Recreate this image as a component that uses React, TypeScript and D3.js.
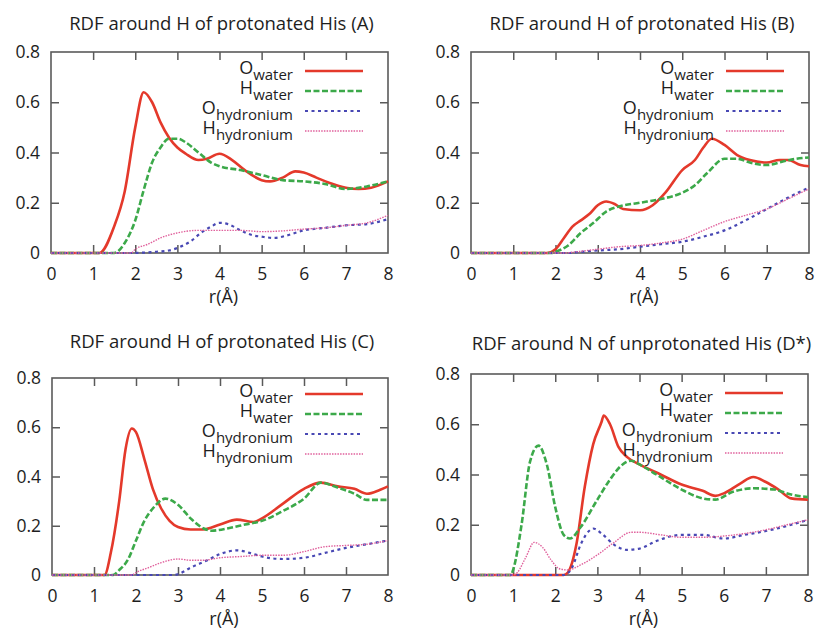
import React, { useEffect, useRef } from "react";
import * as d3 from "d3";

type Pt = [number, number];

const rTicks = [0, 1, 2, 3, 4, 5, 6, 7, 8];
const gTicks = [0, 0.2, 0.4, 0.6, 0.8];
const legendMain = ["O", "H", "O", "H"];
const legendSub = ["water", "water", "hydronium", "hydronium"];
const titles = [
  "RDF around H of protonated His (A)",
  "RDF around H of protonated His (B)",
  "RDF around H of protonated His (C)",
  "RDF around N of unprotonated His (D*)",
];

// panel A
const aOWater: Pt[] = [
  [0, 0], [1.15, 0], [1.5, 0.106], [1.75, 0.245], [2.0, 0.5], [2.2, 0.64], [2.4, 0.6],
  [2.6, 0.52], [2.8, 0.46], [3.0, 0.42], [3.2, 0.395], [3.5, 0.37], [3.7, 0.375],
  [4.0, 0.395], [4.3, 0.37], [4.6, 0.33], [5.0, 0.29], [5.2, 0.285], [5.5, 0.3],
  [5.8, 0.325], [6.0, 0.32], [6.3, 0.3], [6.6, 0.28], [7.0, 0.26], [7.3, 0.255],
  [7.6, 0.26], [8.0, 0.285],
];
const aHWater: Pt[] = [
  [0, 0], [1.5, 0], [1.75, 0.04], [2.0, 0.13], [2.2, 0.25], [2.4, 0.36], [2.6, 0.42],
  [2.8, 0.455], [3.0, 0.455], [3.2, 0.44], [3.5, 0.4], [3.8, 0.36], [4.0, 0.345],
  [4.5, 0.33], [5.0, 0.31], [5.5, 0.29], [6.0, 0.285], [6.5, 0.275], [7.0, 0.255],
  [7.5, 0.265], [8.0, 0.285],
];
const aOHyd: Pt[] = [
  [0, 0], [1.9, 0], [2.5, 0.005], [2.8, 0.01], [3.0, 0.02], [3.3, 0.045], [3.6, 0.085],
  [3.8, 0.105], [4.0, 0.12], [4.2, 0.115], [4.5, 0.09], [4.8, 0.07], [5.0, 0.065],
  [5.3, 0.06], [5.6, 0.07], [6.0, 0.09], [6.5, 0.1], [7.0, 0.11], [7.5, 0.115], [8.0, 0.135],
];
const aHHyd: Pt[] = [
  [0, 0], [1.9, 0], [2.0, 0.015], [2.3, 0.035], [2.6, 0.06], [3.0, 0.08], [3.5, 0.09],
  [4.0, 0.09], [4.5, 0.09], [5.0, 0.085], [5.5, 0.088], [6.0, 0.095], [6.5, 0.1],
  [7.0, 0.11], [7.5, 0.12], [8.0, 0.15],
];

// panel B
const bOWater: Pt[] = [
  [0, 0], [1.8, 0], [2.0, 0.015], [2.2, 0.06], [2.4, 0.105], [2.6, 0.13], [2.8, 0.155],
  [3.0, 0.19], [3.2, 0.205], [3.4, 0.195], [3.6, 0.175], [4.0, 0.17], [4.3, 0.19],
  [4.6, 0.24], [5.0, 0.33], [5.3, 0.37], [5.5, 0.42], [5.7, 0.455], [6.0, 0.43],
  [6.3, 0.39], [6.6, 0.37], [7.0, 0.36], [7.3, 0.37], [7.5, 0.37], [7.8, 0.35], [8.0, 0.345],
];
const bHWater: Pt[] = [
  [0, 0], [1.9, 0], [2.0, 0.005], [2.3, 0.03], [2.6, 0.08], [2.9, 0.12], [3.2, 0.165],
  [3.5, 0.185], [4.0, 0.2], [4.5, 0.215], [5.0, 0.24], [5.3, 0.27], [5.6, 0.32],
  [6.0, 0.375], [6.3, 0.375], [6.6, 0.36], [7.0, 0.35], [7.4, 0.365], [7.7, 0.375], [8.0, 0.38],
];
const bOHyd: Pt[] = [
  [0, 0], [2.3, 0], [2.5, 0.003], [3.0, 0.01], [3.5, 0.015], [4.0, 0.025], [4.5, 0.035],
  [5.0, 0.045], [5.5, 0.065], [6.0, 0.09], [6.5, 0.13], [7.0, 0.175], [7.5, 0.22], [8.0, 0.26],
];
const bHHyd: Pt[] = [
  [0, 0], [2.2, 0], [2.5, 0.005], [3.0, 0.015], [3.5, 0.025], [4.0, 0.03], [4.5, 0.04],
  [5.0, 0.055], [5.5, 0.09], [6.0, 0.125], [6.5, 0.15], [7.0, 0.175], [7.5, 0.215], [8.0, 0.255],
];

// panel C
const cOWater: Pt[] = [
  [0, 0], [1.25, 0], [1.4, 0.09], [1.6, 0.3], [1.75, 0.51], [1.9, 0.595], [2.0, 0.58],
  [2.2, 0.47], [2.4, 0.35], [2.6, 0.27], [2.8, 0.22], [3.0, 0.195], [3.3, 0.185],
  [3.6, 0.185], [4.0, 0.205], [4.4, 0.225], [4.8, 0.215], [5.0, 0.23], [5.5, 0.29],
  [6.0, 0.35], [6.4, 0.375], [6.8, 0.36], [7.2, 0.35], [7.5, 0.33], [7.8, 0.345], [8.0, 0.36],
];
const cHWater: Pt[] = [
  [0, 0], [1.45, 0], [1.6, 0.02], [1.8, 0.06], [2.0, 0.14], [2.2, 0.22], [2.4, 0.27],
  [2.7, 0.31], [3.0, 0.285], [3.3, 0.23], [3.6, 0.19], [3.8, 0.18], [4.2, 0.19],
  [4.6, 0.205], [5.0, 0.22], [5.5, 0.26], [6.0, 0.31], [6.4, 0.375], [6.8, 0.355],
  [7.2, 0.33], [7.5, 0.305], [8.0, 0.305],
];
const cOHyd: Pt[] = [
  [0, 0], [2.9, 0], [3.0, 0.003], [3.3, 0.03], [3.7, 0.06], [4.0, 0.085], [4.4, 0.1],
  [4.8, 0.085], [5.0, 0.075], [5.5, 0.065], [6.0, 0.07], [6.5, 0.09], [7.0, 0.11],
  [7.5, 0.125], [8.0, 0.14],
];
const cHHyd: Pt[] = [
  [0, 0], [1.9, 0], [2.0, 0.01], [2.3, 0.03], [2.6, 0.05], [3.0, 0.065], [3.3, 0.06],
  [3.6, 0.06], [4.0, 0.07], [4.5, 0.075], [5.0, 0.08], [5.5, 0.08], [6.0, 0.095],
  [6.5, 0.115], [7.0, 0.12], [7.5, 0.125], [8.0, 0.14],
];

// panel D
const dOWater: Pt[] = [
  [0, 0], [2.2, 0], [2.3, 0.01], [2.5, 0.12], [2.7, 0.35], [2.9, 0.52], [3.1, 0.61],
  [3.15, 0.635], [3.3, 0.6], [3.5, 0.51], [3.7, 0.47], [4.0, 0.44], [4.5, 0.4],
  [5.0, 0.36], [5.5, 0.335], [5.8, 0.315], [6.0, 0.325], [6.4, 0.365], [6.7, 0.39],
  [7.0, 0.37], [7.3, 0.34], [7.6, 0.305], [8.0, 0.3],
];
const dHWater: Pt[] = [
  [0, 0], [0.95, 0], [1.0, 0.02], [1.2, 0.2], [1.4, 0.45], [1.6, 0.515], [1.8, 0.44],
  [2.0, 0.27], [2.2, 0.16], [2.35, 0.145], [2.6, 0.19], [3.0, 0.3], [3.3, 0.38],
  [3.6, 0.44], [3.8, 0.455], [4.0, 0.44], [4.4, 0.4], [5.0, 0.34], [5.5, 0.305],
  [5.8, 0.3], [6.2, 0.33], [6.7, 0.345], [7.2, 0.34], [7.6, 0.32], [8.0, 0.31],
];
const dOHyd: Pt[] = [
  [0, 0], [2.2, 0], [2.4, 0.03], [2.6, 0.12], [2.8, 0.175], [2.9, 0.185], [3.1, 0.165],
  [3.4, 0.12], [3.7, 0.1], [4.0, 0.105], [4.4, 0.135], [5.0, 0.16], [5.5, 0.16],
  [6.0, 0.145], [6.5, 0.16], [7.0, 0.175], [7.5, 0.195], [8.0, 0.22],
];
const dHHyd: Pt[] = [
  [0, 0], [1.0, 0], [1.1, 0.01], [1.3, 0.07], [1.5, 0.13], [1.7, 0.11], [1.9, 0.06],
  [2.1, 0.025], [2.3, 0.02], [2.6, 0.04], [3.0, 0.08], [3.4, 0.13], [3.8, 0.17],
  [4.0, 0.17], [4.5, 0.16], [5.0, 0.15], [5.5, 0.15], [6.0, 0.155], [6.5, 0.165],
  [7.0, 0.18], [7.5, 0.2], [8.0, 0.22],
];

const lineStyles = [
  { color: "#e4392b", width: 2.6, dash: "" },
  { color: "#3ca94a", width: 2.6, dash: "6,2.5" },
  { color: "#4848b4", width: 2.2, dash: "3,3.5" },
  { color: "#e0609c", width: 1.4, dash: "1.5,1.2" },
];

const panels = [
  { title: titles[0], x0: 51, x1: 388, y0: 52, y1: 253, titleY: 30, legendY: 71, series: [aOWater, aHWater, aOHyd, aHHyd] },
  { title: titles[1], x0: 471, x1: 809, y0: 52, y1: 253, titleY: 30, legendY: 71, series: [bOWater, bHWater, bOHyd, bHHyd] },
  { title: titles[2], x0: 52, x1: 388, y0: 378, y1: 575, titleY: 348, legendY: 394, series: [cOWater, cHWater, cOHyd, cHHyd] },
  { title: titles[3], x0: 471, x1: 808, y0: 374, y1: 575, titleY: 350, legendY: 393, series: [dOWater, dHWater, dOHyd, dHHyd] },
];

const FONT = "'Open Sans', 'DejaVu Sans', sans-serif";
const INK = "#1e1e1e";
const FRAME = "#5a5a5a";

export default function App() {
  const ref = useRef<SVGSVGElement>(null);

  useEffect(() => {
    const svg = d3.select(ref.current);
    svg.selectAll("*").remove();

    panels.forEach((p) => {
      const g = svg.append("g");
      const x = d3.scaleLinear().domain([0, 8]).range([p.x0, p.x1]);
      const y = d3.scaleLinear().domain([0, 0.8]).range([p.y1, p.y0]);

      // title
      g.append("text")
        .attr("x", (p.x0 + p.x1) / 2 + 2)
        .attr("y", p.titleY)
        .attr("text-anchor", "middle")
        .style("font-family", FONT)
        .style("font-size", "18.5px")
        .attr("fill", INK)
        .text(p.title);

      // axes, ticks pointing inward on all four sides
      const bottom = g.append("g")
        .attr("transform", `translate(0,${p.y1})`)
        .call(d3.axisBottom(x).tickValues(rTicks).tickSizeInner(-8).tickSizeOuter(0).tickPadding(15).tickFormat(d3.format("d")));
      const top = g.append("g")
        .attr("transform", `translate(0,${p.y0})`)
        .call(d3.axisTop(x).tickValues(rTicks.slice(1, -1)).tickSizeInner(-8).tickSizeOuter(0).tickFormat(() => ""));
      const left = g.append("g")
        .attr("transform", `translate(${p.x0},0)`)
        .call(d3.axisLeft(y).tickValues(gTicks).tickSizeInner(-8).tickSizeOuter(0).tickPadding(11)
          .tickFormat((d) => (+d === 0 ? "0" : (+d).toFixed(1))));
      const right = g.append("g")
        .attr("transform", `translate(${p.x1},0)`)
        .call(d3.axisRight(y).tickValues(gTicks.slice(1, -1)).tickSizeInner(-8).tickSizeOuter(0).tickFormat(() => ""));

      [bottom, top, left, right].forEach((a) => {
        a.select(".domain").remove();
        a.selectAll(".tick line").attr("stroke", FRAME).attr("stroke-width", 1.5);
        a.selectAll(".tick text")
          .attr("fill", INK)
          .style("font-family", FONT)
          .style("font-size", "17.5px");
      });
      bottom.selectAll(".tick").filter((d) => d === 0 || d === 8).select("line").remove();
      left.selectAll(".tick").filter((d) => d === 0 || d === 0.8).select("line").remove();

      g.append("rect")
        .attr("x", p.x0)
        .attr("y", p.y0)
        .attr("width", p.x1 - p.x0)
        .attr("height", p.y1 - p.y0)
        .attr("fill", "none")
        .attr("stroke", FRAME)
        .attr("stroke-width", 1.6);

      // x label
      g.append("text")
        .attr("x", (p.x0 + p.x1) / 2 + 4)
        .attr("y", p.y1 + 50)
        .attr("text-anchor", "middle")
        .style("font-family", FONT)
        .style("font-size", "18px")
        .attr("fill", INK)
        .text("r(Å)");

      // curves
      const line = d3.line<Pt>()
        .x((d) => x(d[0]))
        .y((d) => y(d[1]))
        .curve(d3.curveMonotoneX);

      p.series.forEach((s, i) => {
        const st = lineStyles[i];
        g.append("path")
          .datum(s)
          .attr("d", line)
          .attr("fill", "none")
          .attr("stroke", st.color)
          .attr("stroke-width", st.width)
          .attr("stroke-dasharray", st.dash || null);
      });

      // legend
      lineStyles.forEach((st, i) => {
        const ly = p.legendY + i * 20;
        const t = g.append("text")
          .attr("x", p.x1 - 95)
          .attr("y", ly + 3)
          .attr("text-anchor", "end")
          .style("font-family", FONT)
          .attr("fill", INK);
        t.append("tspan").style("font-size", "18px").text(legendMain[i]);
        t.append("tspan").attr("dy", 6).style("font-size", "15px").text(legendSub[i]);
        g.append("line")
          .attr("x1", p.x1 - 83)
          .attr("x2", p.x1 - 25)
          .attr("y1", ly)
          .attr("y2", ly)
          .attr("stroke", st.color)
          .attr("stroke-width", st.width)
          .attr("stroke-dasharray", st.dash || null);
      });
    });
  }, []);

  return (
    <div style={{ position: "absolute", left: 0, top: 0 }}>
      <svg ref={ref} width={816} height={634} style={{ display: "block", background: "#fff" }} />
    </div>
  );
}
